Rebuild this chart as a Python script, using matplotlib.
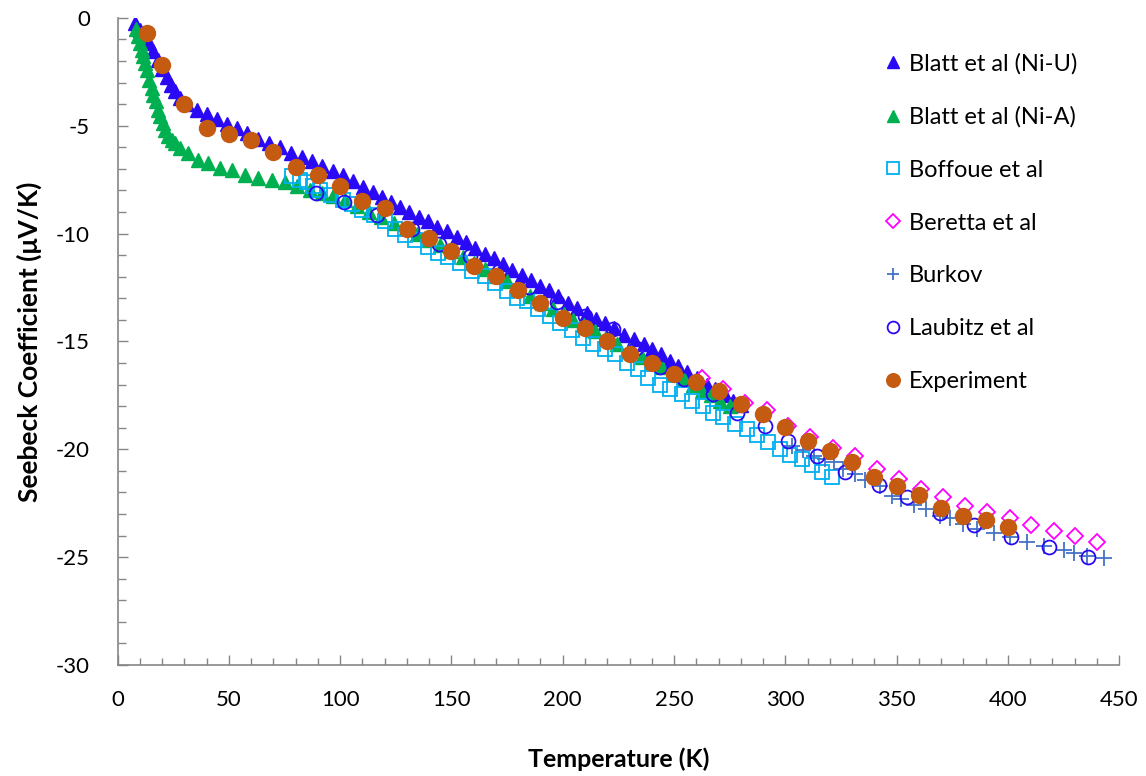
import numpy as np
import matplotlib
matplotlib.use("Agg")
import matplotlib.pyplot as plt
from matplotlib.ticker import MultipleLocator

plt.rcParams["font.family"] = ["Lato", "DejaVu Sans"]
plt.rcParams["axes.unicode_minus"] = False

# Blatt et al (Ni-U)
ni_u_t = [8, 10, 12, 14, 16, 18, 20, 22, 24, 26, 28, 31, 35.5, 40, 44.5, 49, 53.5, 58,
          63, 68, 73, 78, 82.7, 87.3, 92, 96.7, 101.2, 105.7, 110.2, 114.7, 119, 123,
          127, 131, 135.6, 139.6, 143.7, 148, 152.4, 156.6, 160.6, 165, 169, 173.3,
          177.3, 181.6, 185.6, 189.8, 194, 198, 202.5, 206.5, 210.8, 215, 219, 223,
          227.3, 231.8, 236.3, 240, 244, 248.3, 252, 256, 260.3, 264.8, 268.5, 273,
          276.7, 280]
ni_u_s = [-0.25, -0.55, -0.85, -1.15, -1.55, -1.95, -2.35, -2.75, -3.1, -3.4, -3.7, -4.0,
          -4.25, -4.45, -4.7, -4.9, -5.1, -5.35, -5.6, -5.8, -6.0, -6.25, -6.45, -6.65,
          -6.85, -7.1, -7.27, -7.58, -7.84, -8.09, -8.3, -8.55, -8.78, -9.0, -9.25,
          -9.43, -9.69, -9.89, -10.15, -10.4, -10.66, -10.95, -11.13, -11.43, -11.67,
          -11.9, -12.13, -12.44, -12.6, -12.9, -13.2, -13.44, -13.67, -13.98, -14.14,
          -14.37, -14.68, -14.9, -15.14, -15.37, -15.6, -15.9, -16.14, -16.4, -16.7,
          -17.0, -17.2, -17.5, -17.76, -17.95]

# Blatt et al (Ni-A)
ni_a_t = [8.1, 9.3, 10.1, 10.8, 11.6, 12.3, 13.1, 14.3, 15.3, 16, 17.3, 18.3, 19.1, 20.3,
          21.3, 22.8, 24.3, 25.8, 28, 31.8, 36.3, 40.8, 46, 51.3, 57.3, 63.2, 69.3,
          75.2, 80.5, 86.5, 91.7, 96.9, 102.2, 107.5, 113, 118.5, 124, 129.5, 134.5,
          140, 145, 150, 155.3, 160, 165, 170, 175, 180, 185.3, 190.5, 195.8, 200.5,
          204.8, 209.5, 214.6, 219.5, 224.3, 230, 235.5, 240, 244.5, 249.5, 254.3,
          258.5, 262.5, 266.5, 270.7, 275.2]
ni_a_s = [-0.5, -0.86, -1.17, -1.48, -1.79, -2.1, -2.4, -2.87, -3.26, -3.56, -3.87, -4.26,
          -4.57, -4.88, -5.19, -5.5, -5.65, -5.8, -6.03, -6.26, -6.57, -6.73, -6.96,
          -7.04, -7.27, -7.42, -7.5, -7.62, -7.81, -8.0, -8.12, -8.27, -8.43, -8.73,
          -9.0, -9.25, -9.5, -9.75, -10.0, -10.3, -10.55, -10.8, -11.08, -11.35, -11.65,
          -11.95, -12.2, -12.55, -12.9, -13.2, -13.5, -13.75, -14.0, -14.25, -14.5,
          -14.8, -15.1, -15.4, -15.7, -15.95, -16.2, -16.5, -16.76, -17.0, -17.3,
          -17.5, -17.76, -18.0]

# Boffoue et al
boff_t = [78.3, 82, 85, 88, 91, 96, 101.4, 105.5, 109.7, 115, 120.2, 124.7, 129.2, 133.7,
          139.6, 144.1, 148.6, 153.9, 159.1, 165.1, 169.6, 174.9, 179.4, 183.9, 189.1,
          194.3, 198.8, 204.1, 209.3, 213.8, 219, 223.5, 228.8, 234, 238.5, 243.8,
          248.3, 253.5, 258, 263, 267.7, 272.2, 277.5, 282.7, 287.2, 292.4, 297.5,
          302.2, 307.5, 311.9, 316.4, 320.9]
boff_s = [-7.35, -7.5, -7.6, -7.8, -7.96, -8.2, -8.43, -8.65, -8.9, -9.15, -9.43, -9.8,
          -10.05, -10.28, -10.6, -10.9, -11.1, -11.36, -11.74, -11.98, -12.28, -12.67,
          -12.98, -13.13, -13.5, -13.83, -14.13, -14.48, -14.83, -15.1, -15.37, -15.6,
          -16.0, -16.3, -16.7, -17.0, -17.2, -17.45, -17.75, -18.0, -18.3, -18.5,
          -18.85, -19.05, -19.35, -19.65, -20.0, -20.25, -20.45, -20.75, -21.05, -21.3]

# Beretta et al
ber_t = [262.5, 272.2, 282, 291.7, 301.4, 311.2, 321.4, 331.4, 341.4, 351.3, 361, 370.7,
         380.9, 390.6, 400.8, 410.5, 420.5, 430.3, 440]
ber_s = [-16.7, -17.2, -17.84, -18.2, -18.9, -19.45, -19.95, -20.3, -20.9, -21.36, -21.85,
         -22.2, -22.65, -22.9, -23.2, -23.5, -23.8, -24.0, -24.3]

# Burkov
bur_t = [303, 308, 313, 318, 322, 326, 331.4, 336, 342.6, 348, 352, 357.6, 363.3, 369.6,
         374, 380, 386, 393.6, 401, 408.6, 416, 425, 429.6, 435.6, 443]
bur_s = [-19.85, -20.05, -20.3, -20.45, -20.6, -20.9, -21.16, -21.4, -21.7, -22.16, -22.3,
         -22.6, -22.75, -23.1, -23.2, -23.45, -23.7, -23.86, -24.05, -24.3, -24.5,
         -24.66, -24.8, -24.94, -25.06]

# Laubitz et al
lau_t = [89.2, 101.6, 116.7, 132.2, 144.5, 158.5, 171.5, 185, 197.2, 210, 222.8, 233,
         243.8, 254.3, 267.5, 278.3, 291, 301.4, 314.2, 327, 342, 354.6, 369.6, 384.6,
         401.5, 418.3, 435.8]
lau_s = [-8.12, -8.52, -9.15, -9.8, -10.5, -11.05, -11.75, -12.47, -13.15, -13.8, -14.44,
         -15.3, -16.2, -16.76, -17.45, -18.3, -18.9, -19.6, -20.3, -21.05, -21.67, -22.2,
         -22.93, -23.5, -24.05, -24.55, -24.98]

# Experiment
exp_t = [13, 20, 30, 40, 50, 60, 70, 80, 90, 100, 110, 120, 130, 140, 150, 160, 170, 180,
         190, 200, 210, 220, 230, 240, 250, 260, 270, 280, 290, 300, 310, 320, 330, 340,
         350, 360, 370, 380, 390, 400]
exp_s = [-0.69, -2.2, -4.0, -5.1, -5.4, -5.65, -6.2, -6.9, -7.3, -7.8, -8.5, -8.8, -9.8,
         -10.2, -10.8, -11.5, -11.95, -12.6, -13.2, -13.9, -14.4, -15.0, -15.6, -16.0,
         -16.5, -16.9, -17.3, -17.9, -18.35, -18.95, -19.6, -20.1, -20.6, -21.3, -21.7,
         -22.1, -22.7, -23.1, -23.3, -23.6]

fig = plt.figure(figsize=(11.46, 7.76), dpi=100)
ax = fig.add_axes([0.1026, 0.143, 0.874, 0.834])

ax.plot(ni_u_t, ni_u_s, ls="none", marker="^", ms=9.5, color="#2A0AF5", label="Blatt et al (Ni-U)")
ax.plot(ni_a_t, ni_a_s, ls="none", marker="^", ms=9.5, color="#00B050", label="Blatt et al (Ni-A)")
ax.plot(boff_t, boff_s, ls="none", marker="s", ms=10, mfc="none", mec="#00B0F0", mew=1.3,
        label="Boffoue et al")
ax.plot(ber_t, ber_s, ls="none", marker="D", ms=8, mfc="none", mec="#FF00FF", mew=1.3,
        label="Beretta et al")
ax.plot(bur_t, bur_s, ls="none", marker="+", ms=11, color="#4472C4", mew=1.3, label="Burkov")
ax.plot(lau_t, lau_s, ls="none", marker="o", ms=10, mfc="none", mec="#2A0AF5", mew=1.3,
        label="Laubitz et al")
ax.plot(exp_t, exp_s, ls="none", marker="o", ms=11.5, color="#C55A11", label="Experiment")

ax.set_xlim(0, 450)
ax.set_ylim(-30, 0)
ax.xaxis.set_major_locator(MultipleLocator(50))
ax.xaxis.set_minor_locator(MultipleLocator(10))
ax.yaxis.set_major_locator(MultipleLocator(5))
ax.yaxis.set_minor_locator(MultipleLocator(1))

for side in ["top", "right"]:
    ax.spines[side].set_visible(False)
for side in ["left", "bottom"]:
    ax.spines[side].set_color("#868686")
    ax.spines[side].set_linewidth(1.2)

ax.tick_params(which="both", direction="in", color="#868686", width=1.0, labelsize=16,
               labelcolor="black")
ax.tick_params(axis="x", which="major", length=7, pad=18)
ax.tick_params(axis="x", which="minor", length=5)
ax.tick_params(axis="y", which="major", length=7, pad=20)
ax.tick_params(axis="y", which="minor", length=6)

ax.set_xlabel("Temperature (K)", fontsize=18, fontweight="bold", labelpad=27)
ax.set_ylabel("Seebeck Coefficient (\u03bcV/K)", fontsize=19, fontweight="bold", labelpad=10)

ax.legend(loc="upper left", bbox_to_anchor=(0.764, 0.944), bbox_transform=fig.transFigure,
          frameon=False, fontsize=17, handlelength=0.7, handletextpad=0.3,
          labelspacing=1.35, markerscale=0.85, borderaxespad=0)

fig.savefig("out.png", dpi=100)
